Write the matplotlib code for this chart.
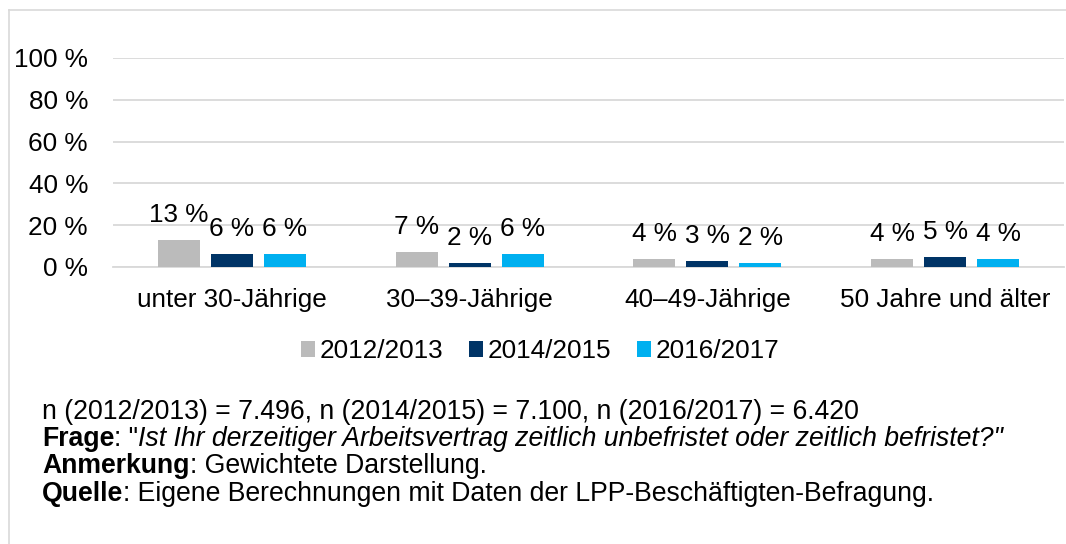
import matplotlib
matplotlib.use("Agg")
from matplotlib import pyplot as plt
from matplotlib.lines import Line2D
import numpy as np

plt.rcParams['font.family'] = ['Liberation Sans', 'DejaVu Sans']

categories = ["unter 30-Jährige", "30–39-Jährige", "40–49-Jährige", "50 Jahre und älter"]
series_names = ["2012/2013", "2014/2015", "2016/2017"]
values_2012 = [13, 7, 4, 4]
values_2014 = [6, 2, 3, 5]
values_2016 = [6, 6, 2, 4]
colors = ["#BBBBBB", "#003466", "#00B0F0"]
yticks = [0, 20, 40, 60, 80, 100]

W, H = 1066, 544
fig = plt.figure(figsize=(W / 100, H / 100), dpi=100)
ax = fig.add_axes([113 / W, 1 - 267 / H, 951 / W, 209 / H])

fs = 18.8
x = np.arange(len(categories))
width = 0.177
step = 0.223
for i, (vals, name, col) in enumerate(zip([values_2012, values_2014, values_2016], series_names, colors)):
    pos = x + (i - 1) * step
    ax.bar(pos, vals, width, color=col, label=name, zorder=3)
    for px, v in zip(pos, vals):
        ax.annotate(f"{v} %", (px, v), xytext=(0, 18), textcoords="offset points",
                    ha="center", va="center", fontsize=fs, color="#000000")

ax.set_xlim(-0.5, 3.5)
ax.set_ylim(0, 100)
ax.set_yticks(yticks)
ax.set_yticklabels([f"{t} %" for t in yticks], fontsize=fs)
ax.set_xticks(x)
ax.set_xticklabels(categories, fontsize=fs)
ax.tick_params(axis="y", length=0, pad=18)
ax.tick_params(axis="x", length=0, pad=15)
ax.yaxis.grid(True, color="#D9D9D9", linewidth=1.3, zorder=0)
for s in ["top", "right", "left"]:
    ax.spines[s].set_visible(False)
ax.spines["bottom"].set_color("#D9D9D9")
ax.spines["bottom"].set_linewidth(1.3)

ax.legend(loc="center", bbox_to_anchor=(540 / W, 1 - 351 / H), bbox_transform=fig.transFigure,
          ncol=3, frameon=False, fontsize=fs, handlelength=0.55, handleheight=0.55,
          handletextpad=0.15, columnspacing=1.0)

# Rahmen
fig.add_artist(Line2D([9 / W, 9 / W], [0, 1 - 10 / H], color="#D9D9D9", linewidth=1.2))
fig.add_artist(Line2D([9 / W, 1], [1 - 10 / H, 1 - 10 / H], color="#D9D9D9", linewidth=1.2))

# Fußnoten: Teile mit unterschiedlichem Schriftschnitt aneinanderreihen
renderer = fig.canvas.get_renderer()
footnotes = [
    [("n (2012/2013) = 7.496, n (2014/2015) = 7.100, n (2016/2017) = 6.420", "normal", "normal")],
    [("Frage", "bold", "normal"), (': "', "normal", "normal"),
     ("Ist Ihr derzeitiger Arbeitsvertrag zeitlich unbefristet oder zeitlich befristet?\"", "normal", "italic")],
    [("Anmerkung", "bold", "normal"), (": Gewichtete Darstellung.", "normal", "normal")],
    [("Quelle", "bold", "normal"), (": Eigene Berechnungen mit Daten der LPP-Beschäftigten-Befragung.", "normal", "normal")],
]
ypix = [412, 439, 466, 494]
fs_note = 19.2
for parts, yp in zip(footnotes, ypix):
    xp = 42
    for txt, weight, style in parts:
        t = fig.text(xp / W, 1 - yp / H, txt, fontsize=fs_note, fontweight=weight, fontstyle=style,
                     family="Liberation Sans", va="center")
        xp += t.get_window_extent(renderer).width

fig.savefig("out.png", dpi=100)
